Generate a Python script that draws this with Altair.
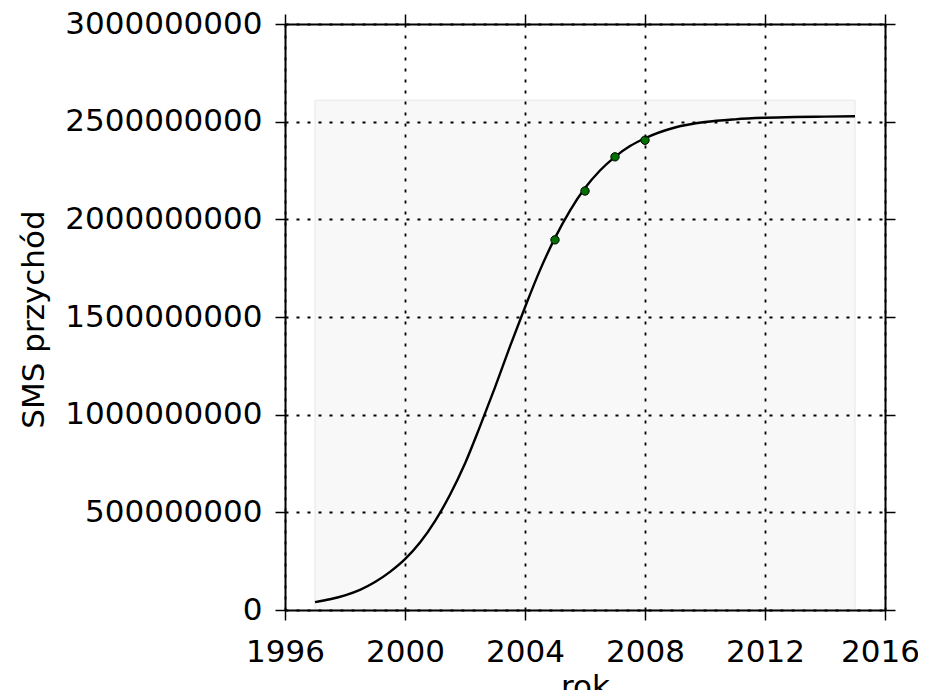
import altair as alt
import pandas as pd

# fitted curve
curve_years = [1997, 1997.5, 1998, 1998.5, 1999, 1999.5, 2000, 2000.5, 2001, 2001.5, 2002, 2002.5,
               2003, 2003.5, 2004, 2004.5, 2005, 2005.5, 2006, 2006.5, 2007, 2007.5, 2008,
               2009, 2010, 2011, 2012, 2013, 2014, 2015]
curve_values = [0.040e9, 0.055e9, 0.075e9, 0.103e9, 0.143e9, 0.195e9, 0.260e9, 0.345e9, 0.455e9, 0.590e9,
                0.750e9, 0.940e9, 1.140e9, 1.350e9, 1.550e9, 1.740e9, 1.905e9, 2.045e9, 2.160e9, 2.250e9,
                2.320e9, 2.375e9, 2.415e9, 2.470e9, 2.498e9, 2.512e9, 2.520e9, 2.524e9, 2.526e9, 2.528e9]

# observed points
obs_years = [2005, 2006, 2007, 2008]
obs_values = [1.895e9, 2.145e9, 2.320e9, 2.405e9]

# shaded span
span_x = [1997, 2015]
span_y = [0, 2.61e9]

x_ticks = [1996, 2000, 2004, 2008, 2012, 2016]
y_ticks = [0, 500000000, 1000000000, 1500000000, 2000000000, 2500000000, 3000000000]

FONT = "DejaVu Sans"
FS = 31

curve_df = pd.DataFrame({"rok": curve_years, "v": curve_values})
obs_df = pd.DataFrame({"rok": obs_years, "v": obs_values})
span_df = pd.DataFrame({"x0": [span_x[0]], "x1": [span_x[1]], "y0": [span_y[0]], "y1": [span_y[1]]})

xscale = alt.Scale(domain=[1996, 2016], nice=False, zero=False)
yscale = alt.Scale(domain=[0, 3000000000], nice=False, zero=False)

grid_kw = dict(grid=True, gridColor="black", gridDash=[3, 8], gridWidth=1.8, gridOpacity=1)

xaxis = alt.Axis(values=x_ticks, format="d", title="rok", tickSize=10, tickColor="black", tickWidth=1.5,
                 labelPadding=17, labelFontSize=FS, labelFont=FONT, labelColor="black", labelLimit=500,
                 labelOffset=alt.expr("datum.value == 2016 ? -5 : 0"),
                 titleFontSize=FS, titleFont=FONT, titleFontWeight="normal", titleColor="black",
                 titleBaseline="top", titleY=62, domain=True, domainColor="black", domainWidth=2,
                 zindex=1, labelFlush=False, labelOverlap=False, **grid_kw)
yaxis = alt.Axis(values=y_ticks, format="d", title="SMS przychód", tickSize=10, tickColor="black", tickWidth=1.5,
                 labelPadding=13, labelFontSize=FS, labelFont=FONT, labelColor="black", labelLimit=500,
                 titleFontSize=FS, titleFont=FONT, titleFontWeight="normal", titleColor="black",
                 titleAngle=270, titleBaseline="alphabetic", titleAlign="center", titleX=-242, titleY=295,
                 domain=True, domainColor="black", domainWidth=2, zindex=1, labelFlush=False,
                 labelOverlap=False, **grid_kw)

span = alt.Chart(span_df).mark_rect(fill="#f8f8f8", stroke="#e6e6e6", strokeWidth=1).encode(
    x=alt.X("x0:Q", scale=xscale, axis=xaxis),
    x2="x1:Q",
    y=alt.Y("y0:Q", scale=yscale, axis=yaxis),
    y2="y1:Q",
)

line = alt.Chart(curve_df).mark_line(color="black", strokeWidth=2.4, interpolate="monotone").encode(
    x=alt.X("rok:Q", scale=xscale),
    y=alt.Y("v:Q", scale=yscale),
)

pts = alt.Chart(obs_df).mark_point(filled=True, fill="#007000", stroke="black", strokeWidth=1,
                                   size=70, opacity=1, shape="circle").encode(
    x=alt.X("rok:Q", scale=xscale),
    y=alt.Y("v:Q", scale=yscale),
)

main = alt.layer(span, line, pts)

frame_axis_x = alt.Axis(values=x_ticks, orient="top", labels=False, title=None, tickSize=10,
                        tickColor="black", tickWidth=1.5, grid=False, domain=True, domainColor="black",
                        domainWidth=2)
frame_axis_y = alt.Axis(values=y_ticks, orient="right", labels=False, title=None, tickSize=10,
                        tickColor="black", tickWidth=1.5, grid=False, domain=True, domainColor="black",
                        domainWidth=2)
frame = alt.Chart(obs_df).mark_point(opacity=0).encode(
    x=alt.X("rok:Q", scale=xscale, axis=frame_axis_x),
    y=alt.Y("v:Q", scale=yscale, axis=frame_axis_y),
)

chart = alt.layer(main, frame).resolve_scale(x="independent", y="independent").properties(
    width=600, height=586,
    autosize=alt.AutoSizeParams(type="none"),
    padding={"left": 277, "top": 16, "right": 33, "bottom": 80},
).configure_view(stroke=None).configure(background="white")

chart.save("out.html", embed_options={"renderer": "svg", "actions": False})
